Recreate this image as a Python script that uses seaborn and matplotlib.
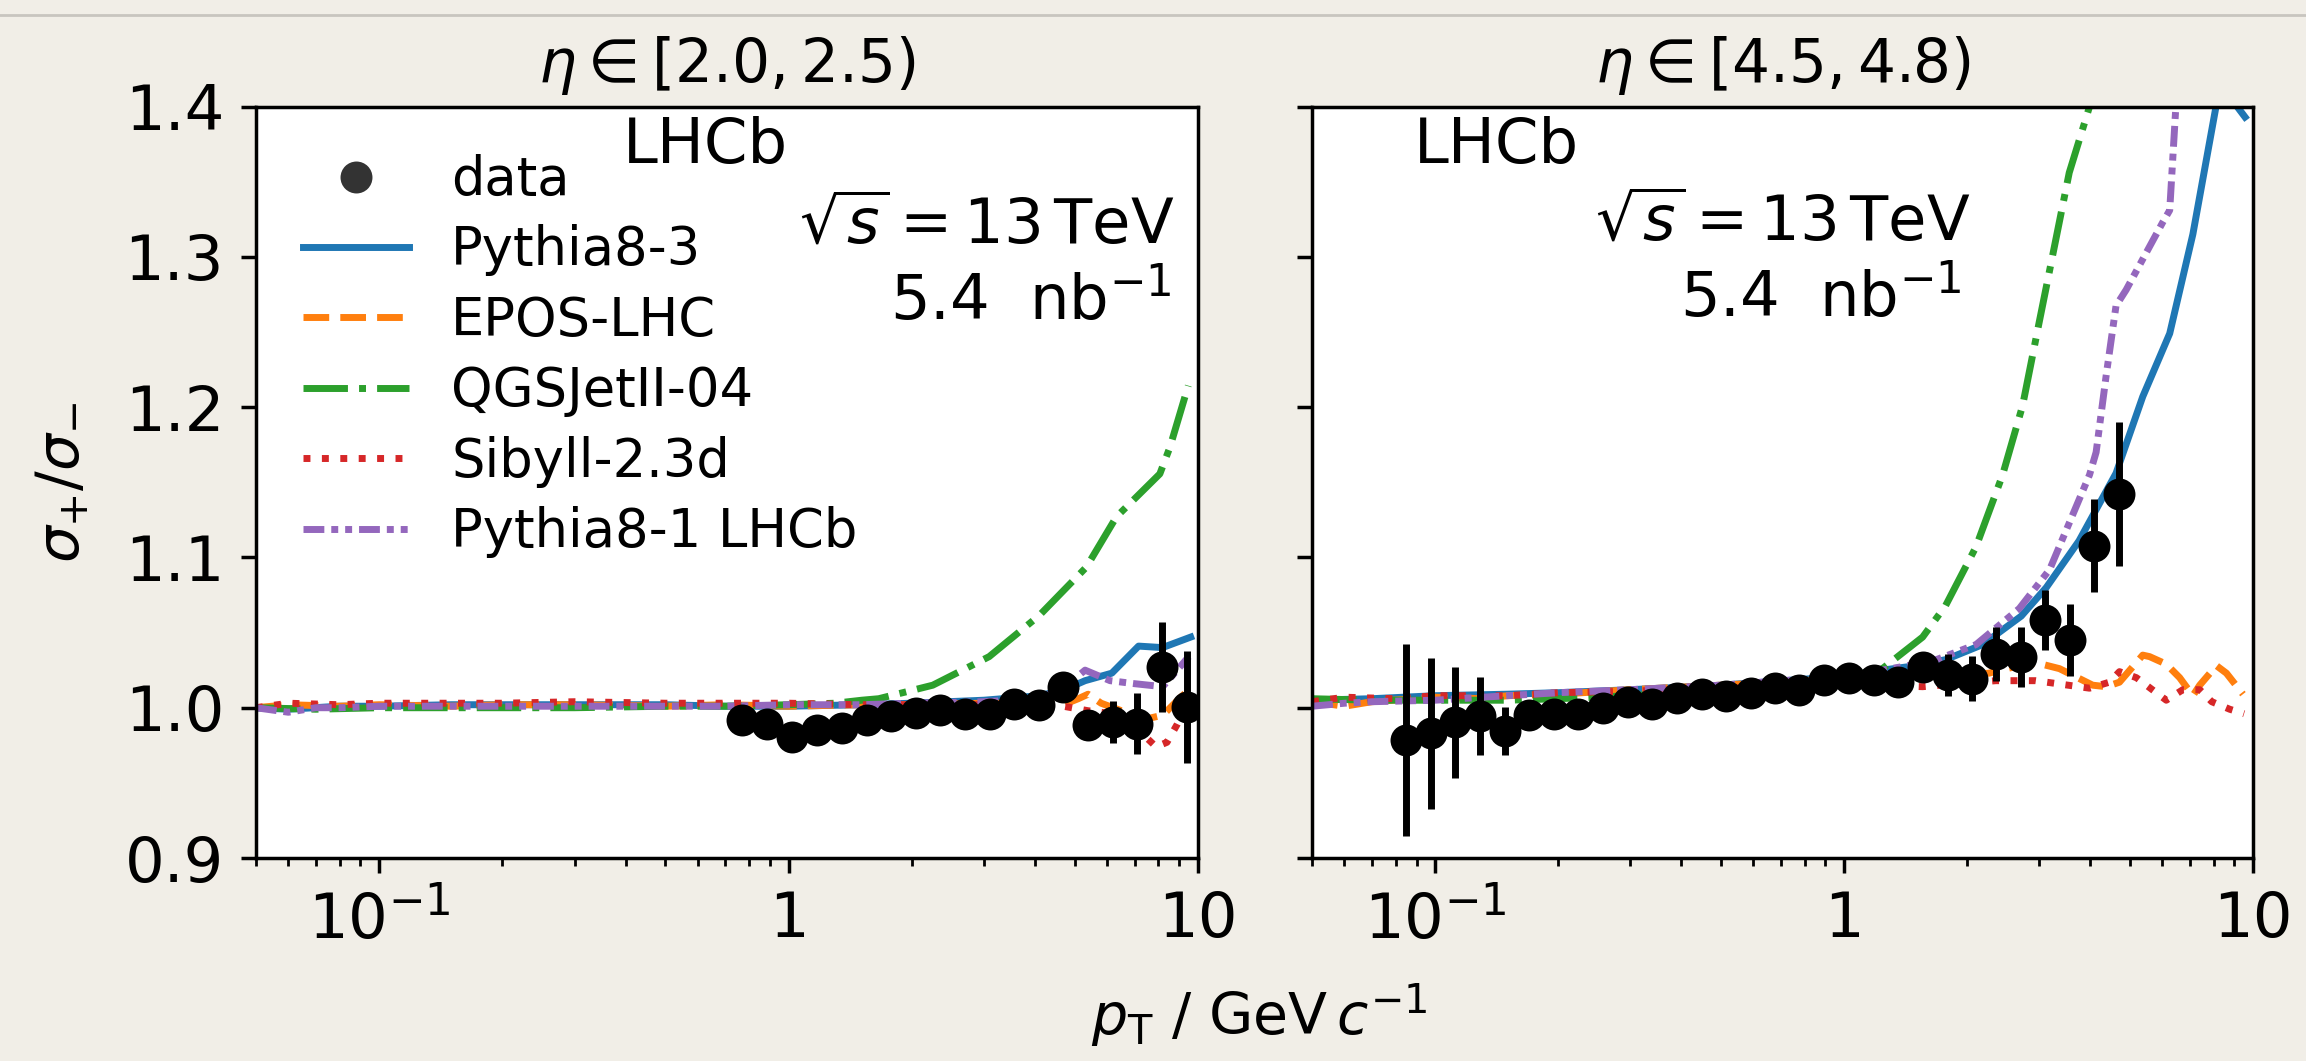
import numpy as np
import pandas as pd
import matplotlib
matplotlib.use("Agg")
import matplotlib.pyplot as plt
import seaborn as sns
from matplotlib.lines import Line2D
from matplotlib.ticker import LogLocator, NullFormatter, NullLocator

# ---------------- data ----------------
panel_titles = [r"$\eta \in [2.0, 2.5)$", r"$\eta \in [4.5, 4.8)$"]
model_names = ["Pythia8-3", "EPOS-LHC", "QGSJetII-04", "Sibyll-2.3d", "Pythia8-1 LHCb"]
xtick_vals = [0.1, 1, 10]
xtick_labels = [r"$10^{-1}$", "1", "10"]
ytick_vals = [0.9, 1.0, 1.1, 1.2, 1.3, 1.4]
ytick_labels = ["0.9", "1.0", "1.1", "1.2", "1.3", "1.4"]

# left panel data
dataL_x = [0.770, 0.888, 1.020, 1.175, 1.349, 1.550, 1.781, 2.046, 2.349, 2.698,
           3.098, 3.56, 4.09, 4.69, 5.39, 6.20, 7.10, 8.18, 9.39]
dataL_y = [0.9917, 0.9895, 0.9802, 0.9855, 0.9866, 0.9917, 0.9946, 0.9965, 0.9988, 0.9961,
           0.9961, 1.0023, 1.0017, 1.0138, 0.9884, 0.9906, 0.9895, 1.0271, 1.0005]
dataL_e = [0.003, 0.003, 0.003, 0.003, 0.003, 0.003, 0.003, 0.003, 0.003, 0.003,
           0.003, 0.004, 0.004, 0.005, 0.008, 0.014, 0.020, 0.030, 0.0375]

# right panel data
dataR_x = [0.085, 0.0977, 0.112, 0.129, 0.148, 0.170, 0.195, 0.223, 0.257, 0.296,
           0.339, 0.390, 0.449, 0.514, 0.591, 0.678, 0.776, 0.893, 1.027, 1.181,
           1.35, 1.555, 1.79, 2.05, 2.35, 2.71, 3.10, 3.56, 4.09, 4.69]
dataR_y = [0.9784, 0.9829, 0.9902, 0.9944, 0.9844, 0.9950, 0.9961, 0.9957, 0.9999, 1.0039,
           1.0023, 1.0065, 1.0090, 1.0081, 1.0101, 1.0128, 1.0121, 1.0187, 1.0201, 1.0183,
           1.0171, 1.0271, 1.0216, 1.0194, 1.0360, 1.0338, 1.0581, 1.0449, 1.1078, 1.1422]
dataR_e = [0.064, 0.050, 0.037, 0.026, 0.016, 0.008, 0.006, 0.005, 0.005, 0.004,
           0.004, 0.004, 0.004, 0.004, 0.004, 0.004, 0.004, 0.004, 0.005, 0.005,
           0.006, 0.006, 0.014, 0.015, 0.018, 0.020, 0.020, 0.024, 0.031, 0.048]

# left panel models
p83_L_x = [0.05, 0.06, 0.08, 0.1, 0.15, 0.2, 0.3, 0.5, 0.7, 1.0, 1.5, 2.0, 3.0, 4.1, 4.72, 5.3, 6.16, 7.16, 8.19, 9.6]
p83_L_y = [1.000, 0.999, 1.001, 1.001, 1.002, 1.002, 1.002, 1.002, 1.001, 1.001, 1.002, 1.003, 1.005, 1.008, 1.012, 1.018, 1.023, 1.041, 1.040, 1.047]
epos_L_x = [0.05, 0.06, 0.08, 0.1, 0.15, 0.2, 0.3, 0.5, 0.7, 1.0, 1.5, 2.0, 3.0, 4.1, 4.69, 5.1, 5.39, 5.8, 6.5, 7.6, 8.2, 9.0, 9.6]
epos_L_y = [1.000, 1.002, 1.001, 1.002, 1.001, 1.002, 1.002, 1.001, 1.002, 1.001, 1.002, 1.002, 1.003, 1.003, 1.002, 1.006, 1.009, 1.003, 0.998, 0.993, 0.995, 1.006, 1.013]
qgs_L_x = [0.05, 0.07, 0.1, 0.15, 0.2, 0.3, 0.5, 0.7, 1.0, 1.3, 1.51, 1.66, 2.25, 3.09, 4.1, 5.34, 6.32, 8.07, 8.54, 9.47]
qgs_L_y = [1.000, 0.999, 1.000, 1.000, 1.000, 1.000, 1.001, 1.001, 1.002, 1.003, 1.005, 1.006, 1.015, 1.034, 1.0615, 1.0936, 1.127, 1.1556, 1.1733, 1.2143]
sib_L_x = [0.05, 0.06, 0.08, 0.1, 0.15, 0.2, 0.3, 0.5, 0.7, 1.0, 1.5, 2.0, 3.0, 4.1, 4.69, 5.39, 6.2, 7.1, 7.9, 8.4, 8.9, 9.6]
sib_L_y = [1.000, 1.003, 1.002, 1.003, 1.003, 1.003, 1.004, 1.003, 1.003, 1.003, 1.002, 1.002, 1.002, 1.002, 1.001, 0.998, 0.996, 0.986, 0.974, 0.977, 0.989, 1.008]
p81_L_x = [0.05, 0.06, 0.07, 0.08, 0.1, 0.15, 0.2, 0.3, 0.5, 0.7, 1.0, 1.5, 2.0, 3.0, 4.1, 4.69, 5.3, 6.1, 7.0, 8.2, 9.5]
p81_L_y = [1.000, 0.997, 1.000, 1.000, 1.001, 1.001, 1.001, 1.001, 1.001, 1.001, 1.002, 1.002, 1.003, 1.004, 1.006, 1.013, 1.025, 1.018, 1.016, 1.014, 1.034]

# right panel models
p83_R_x = [0.05, 0.07, 0.1, 0.15, 0.2, 0.3, 0.5, 0.8, 1.0, 1.24, 1.5, 1.77, 2.18, 2.71, 3.12, 3.75, 4.62, 5.37, 6.25, 7.12, 8.3, 9.55]
p83_R_y = [1.005, 1.006, 1.008, 1.009, 1.010, 1.012, 1.015, 1.019, 1.021, 1.025, 1.028, 1.032, 1.042, 1.061, 1.080, 1.111, 1.156, 1.207, 1.249, 1.315, 1.415, 1.393]
epos_R_x = [0.05, 0.06, 0.07, 0.1, 0.13, 0.15, 0.2, 0.3, 0.5, 0.8, 1.0, 1.24, 1.6, 2.0, 2.26, 2.49, 2.94, 3.36, 4.05, 4.37, 4.71, 5.37, 5.58, 6.13, 6.61, 7.12, 7.40, 8.13, 8.60, 9.44]
epos_R_y = [1.004, 1.001, 1.004, 1.007, 1.006, 1.008, 1.009, 1.012, 1.015, 1.018, 1.020, 1.021, 1.022, 1.022, 1.023, 1.026, 1.030, 1.026, 1.015, 1.014, 1.017, 1.035, 1.034, 1.029, 1.020, 1.008, 1.015, 1.028, 1.023, 1.009]
qgs_R_x = [0.05, 0.07, 0.1, 0.15, 0.2, 0.3, 0.5, 0.8, 1.0, 1.24, 1.555, 1.77, 2.10, 2.44, 2.73, 3.00, 3.30, 3.55, 3.98, 4.3]
qgs_R_y = [1.006, 1.005, 1.005, 1.005, 1.006, 1.008, 1.012, 1.017, 1.020, 1.026, 1.047, 1.068, 1.107, 1.155, 1.201, 1.257, 1.313, 1.356, 1.40, 1.46]
sib_R_x = [0.05, 0.06, 0.08, 0.1, 0.15, 0.2, 0.3, 0.5, 0.8, 1.0, 1.24, 1.555, 2.35, 2.94, 3.98, 4.45, 4.71, 5.18, 6.13, 6.73, 7.40, 7.92, 8.76, 9.5]
sib_R_y = [1.004, 1.007, 1.006, 1.008, 1.008, 1.010, 1.011, 1.013, 1.014, 1.015, 1.015, 1.014, 1.018, 1.018, 1.013, 1.017, 1.024, 1.020, 1.005, 1.012, 1.012, 1.004, 0.999, 0.996]
p81_R_x = [0.05, 0.06, 0.07, 0.1, 0.15, 0.2, 0.3, 0.5, 0.8, 1.0, 1.24, 1.5, 1.68, 2.1, 2.68, 3.18, 3.98, 4.13, 4.37, 4.62, 4.89, 6.01, 6.25, 6.47, 6.7]
p81_R_y = [1.001, 1.003, 1.004, 1.005, 1.008, 1.010, 1.012, 1.015, 1.019, 1.021, 1.025, 1.029, 1.032, 1.042, 1.066, 1.092, 1.155, 1.170, 1.221, 1.2675, 1.278, 1.323, 1.331, 1.40, 1.45]

models_L = [(p83_L_x, p83_L_y), (epos_L_x, epos_L_y), (qgs_L_x, qgs_L_y), (sib_L_x, sib_L_y), (p81_L_x, p81_L_y)]
models_R = [(p83_R_x, p83_R_y), (epos_R_x, epos_R_y), (qgs_R_x, qgs_R_y), (sib_R_x, sib_R_y), (p81_R_x, p81_R_y)]

# ---------------- style ----------------
colors = ["#1f77b4", "#ff7f0e", "#2ca02c", "#d62728", "#9467bd"]
lstyles = ["-", "--", "-.", ":", (0, (3, 1, 1, 1, 1, 1))]
LW = 5

plt.rcParams["font.family"] = ["DejaVu Sans"]
plt.rcParams["mathtext.fontset"] = "dejavusans"

fig = plt.figure(figsize=(23.06, 10.61), dpi=100, facecolor="#f1eee7")
axL = fig.add_axes([0.1110, 0.1913, 0.4085, 0.7083])
axR = fig.add_axes([0.5690, 0.1913, 0.4081, 0.7083])

fig.add_artist(Line2D([0, 1], [0.9859, 0.9859], transform=fig.transFigure,
                      color="#c8c5bf", lw=2))

panels = [(axL, models_L, dataL_x, dataL_y, dataL_e),
          (axR, models_R, dataR_x, dataR_y, dataR_e)]

for i, (ax, models, dx, dy, de) in enumerate(panels):
    ax.set_facecolor("white")
    ax.set_xscale("log")
    ax.set_xlim(0.05, 10)
    ax.set_ylim(0.9, 1.4)
    for (mx, my), c, ls in zip(models, colors, lstyles):
        df = pd.DataFrame({"x": mx, "y": my})
        sns.lineplot(data=df, x="x", y="y", ax=ax, color=c, linestyle=ls, lw=LW,
                     estimator=None, sort=False, legend=False, zorder=2)
    ax.errorbar(dx, dy, yerr=de, fmt="none", ecolor="black", elinewidth=5,
                capsize=0, zorder=5)
    ddf = pd.DataFrame({"x": dx, "y": dy})
    sns.scatterplot(data=ddf, x="x", y="y", ax=ax, color="black", s=23 ** 2,
                    linewidth=0, zorder=6, legend=False)
    ax.set_xlabel("")
    ax.set_ylabel("")
    ax.set_xticks(xtick_vals)
    ax.set_xticklabels(xtick_labels)
    ax.xaxis.set_minor_locator(LogLocator(base=10, subs=np.arange(2, 10) * 1.0, numticks=20))
    ax.xaxis.set_minor_formatter(NullFormatter())
    ax.set_yticks(ytick_vals)
    ax.yaxis.set_minor_locator(NullLocator())
    ax.tick_params(which="major", length=11, width=2.5, pad=12, labelsize=45,
                   direction="out", colors="black")
    ax.tick_params(which="minor", length=5.5, width=2, direction="out")
    for sp in ax.spines.values():
        sp.set_linewidth(2.5)
        sp.set_color("black")
    ax.set_title(panel_titles[i], fontsize=43, pad=18)

axL.set_yticklabels(ytick_labels)
axR.tick_params(axis="y", labelleft=False)

axL.set_ylabel(r"$\sigma_{+}/\sigma_{-}$", fontsize=42)
axL.yaxis.set_label_coords(-0.175, 0.5)

fig.text(0.546, 0.010, r"$p_{\mathrm{T}}$ / GeV$\,c^{-1}$", ha="center", va="bottom",
         fontsize=41)

# annotation texts
axL.text(0.39, 0.925, "LHCb", transform=axL.transAxes, fontsize=45, ha="left", va="baseline")
axL.text(0.975, 0.818, r"$\sqrt{s} = 13\,\mathrm{TeV}$", transform=axL.transAxes,
         fontsize=45, ha="right", va="baseline")
axL.text(0.972, 0.716, "5.4  nb$^{-1}$", transform=axL.transAxes, fontsize=45,
         ha="right", va="baseline")
axR.text(0.108, 0.925, "LHCb", transform=axR.transAxes, fontsize=45, ha="left", va="baseline")
axR.text(0.699, 0.821, r"$\sqrt{s} = 13\,\mathrm{TeV}$", transform=axR.transAxes,
         fontsize=45, ha="right", va="baseline")
axR.text(0.690, 0.720, "5.4  nb$^{-1}$", transform=axR.transAxes, fontsize=45,
         ha="right", va="baseline")

# legend
handles = [Line2D([], [], marker="o", ls="none", color="#333333", markersize=23, mec="none")]
for c, ls in zip(colors, lstyles):
    handles.append(Line2D([], [], color=c, ls=ls, lw=LW))
labels = ["data"] + model_names
axL.legend(handles, labels, loc="upper left", frameon=False, fontsize=38,
           labelspacing=0.35, handlelength=2.0, handletextpad=0.8,
           borderaxespad=0.5, borderpad=0.4)

fig.savefig("out.png", dpi=100, facecolor=fig.get_facecolor())
